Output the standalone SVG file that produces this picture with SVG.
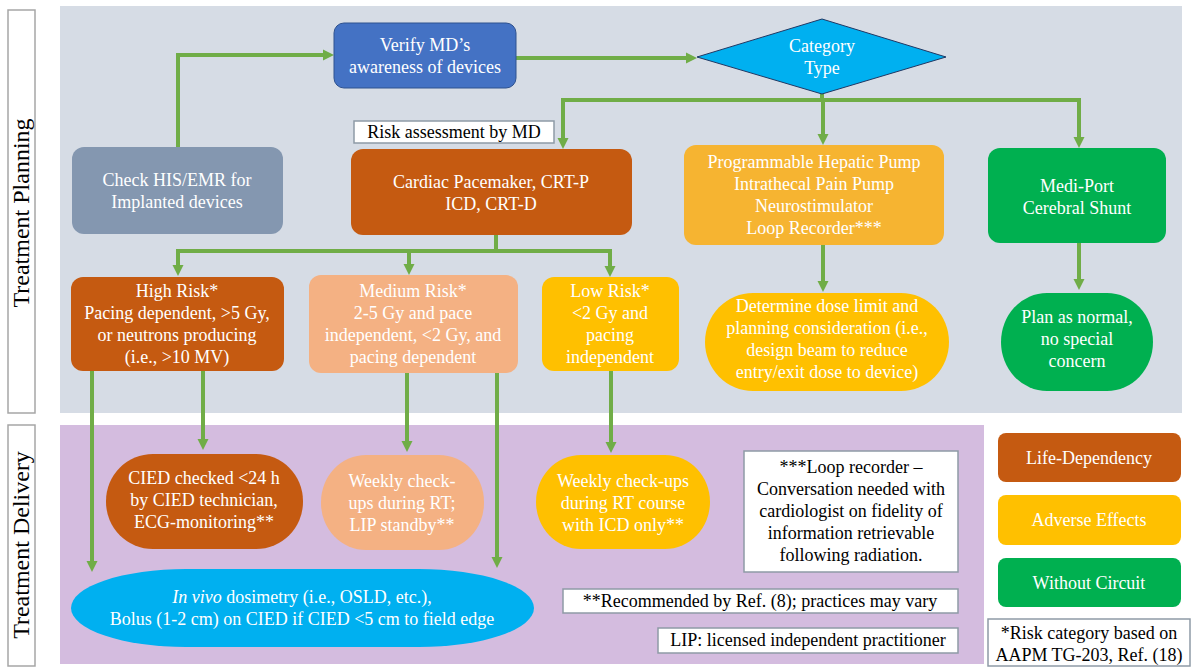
<svg xmlns="http://www.w3.org/2000/svg" width="1193" height="668" viewBox="0 0 1193 668" font-family="'Liberation Serif', 'DejaVu Serif', serif">
<defs>
<marker id="ah" markerUnits="userSpaceOnUse" markerWidth="12" markerHeight="12" refX="3" refY="6" orient="auto">
<path d="M0,0.5 L11,6 L0,11.5 z" fill="#70ad47"/>
</marker>
</defs>
<style>
text{font-family:'Liberation Serif','DejaVu Serif',serif;font-size:18px;text-anchor:middle}
.w{fill:#ffffff}
.k{fill:#000000}
.lbl{font-size:24px;fill:#000}
.c{fill:none;stroke:#70ad47;stroke-width:4}
.note{fill:#ffffff;stroke:#8e9aa6;stroke-width:1.5}
.side{fill:#ffffff;stroke:#a6a6a6;stroke-width:1.5}
.life{fill:#c55a11}
.med{fill:#f4b183}
.adv{fill:#ffc000}
.grn{fill:#00b050}
.cyan{fill:#00b0f0}
</style>
<rect width="1193" height="668" fill="#ffffff"/>
<g id="panels">
<rect x="60" y="6" width="1122" height="407" fill="#d6dce5"/>
<rect x="60" y="425" width="924" height="239" fill="#d4bcdf"/>
</g>
<g id="label-planning">
<rect class="side" x="8" y="10" width="27" height="403"/>
<text class="lbl" transform="translate(29,213) rotate(-90)">Treatment Planning</text>
</g>
<g id="label-delivery">
<rect class="side" x="8" y="425" width="27" height="241"/>
<text class="lbl" transform="translate(29,545) rotate(-90)">Treatment Delivery</text>
</g>
<g id="connectors">
<path class="c" d="M178,147 L178,55 L326,55" marker-end="url(#ah)"/>
<path class="c" d="M516,58 L689,58" marker-end="url(#ah)"/>
<path class="c" d="M822,93 L822,100"/>
<path class="c" d="M563,100 L1079,100"/>
<path class="c" d="M563,98 L563,141" marker-end="url(#ah)"/>
<path class="c" d="M823,100 L823,137" marker-end="url(#ah)"/>
<path class="c" d="M1079,98 L1079,140" marker-end="url(#ah)"/>
<path class="c" d="M496,235 L496,251"/>
<path class="c" d="M176,251 L612,251"/>
<path class="c" d="M178,249 L178,268" marker-end="url(#ah)"/>
<path class="c" d="M409,251 L409,267" marker-end="url(#ah)"/>
<path class="c" d="M610,249 L610,269" marker-end="url(#ah)"/>
<path class="c" d="M823,245 L823,284" marker-end="url(#ah)"/>
<path class="c" d="M1079,243 L1079,282" marker-end="url(#ah)"/>
<path class="c" d="M92,371 L92,564" marker-end="url(#ah)"/>
<path class="c" d="M203,371 L203,442" marker-end="url(#ah)"/>
<path class="c" d="M407,373 L407,444" marker-end="url(#ah)"/>
<path class="c" d="M497,373 L497,560" marker-end="url(#ah)"/>
<path class="c" d="M611,371 L611,445" marker-end="url(#ah)"/>
</g>
<g id="verify">
<rect x="334" y="23" width="182" height="65" rx="10" fill="#4472c4" stroke="#2f528f" stroke-width="1"/>
<text class="w" x="425" y="51">Verify MD’s</text>
<text class="w" x="425" y="73">awareness of devices</text>
</g>
<g id="category">
<polygon points="697,57 822,19 946,57 822,94" fill="#00b0f0" stroke="#203864" stroke-width="1"/>
<text class="w" x="822" y="52">Category</text>
<text class="w" x="822" y="74">Type</text>
</g>
<g id="check-his">
<rect x="72" y="147" width="211" height="87" rx="12" fill="#8497b0"/>
<text class="w" x="177" y="186">Check HIS/EMR for</text>
<text class="w" x="177" y="208">Implanted devices</text>
</g>
<g id="risk-assessment">
<rect class="note" x="354" y="121" width="200" height="22"/>
<text class="k" x="454" y="138">Risk assessment by MD</text>
</g>
<g id="cardiac">
<rect class="life" x="351" y="149" width="281" height="86" rx="12"/>
<text class="w" x="491" y="188">Cardiac Pacemaker, CRT-P</text>
<text class="w" x="491" y="210">ICD, CRT-D</text>
</g>
<g id="programmable">
<rect x="684" y="145" width="260" height="100" rx="12" fill="#f6b431"/>
<text class="w" x="814" y="168">Programmable Hepatic Pump</text>
<text class="w" x="814" y="190">Intrathecal Pain Pump</text>
<text class="w" x="814" y="212">Neurostimulator</text>
<text class="w" x="814" y="234">Loop Recorder***</text>
</g>
<g id="medi-port">
<rect class="grn" x="988" y="148" width="178" height="95" rx="12"/>
<text class="w" x="1077" y="192">Medi-Port</text>
<text class="w" x="1077" y="214">Cerebral Shunt</text>
</g>
<g id="high-risk">
<rect class="life" x="71" y="277" width="213" height="94" rx="12"/>
<text class="w" x="177" y="297">High Risk*</text>
<text class="w" x="177" y="319">Pacing dependent, &gt;5 Gy,</text>
<text class="w" x="177" y="341">or neutrons producing</text>
<text class="w" x="177" y="363">(i.e., &gt;10 MV)</text>
</g>
<g id="medium-risk">
<rect class="med" x="309" y="275" width="209" height="98" rx="12"/>
<text class="w" x="413" y="297">Medium Risk*</text>
<text class="w" x="413" y="319">2-5 Gy and pace</text>
<text class="w" x="413" y="341">independent, &lt;2 Gy, and</text>
<text class="w" x="413" y="363">pacing dependent</text>
</g>
<g id="low-risk">
<rect class="adv" x="542" y="277" width="137" height="94" rx="12"/>
<text class="w" x="610" y="297">Low Risk*</text>
<text class="w" x="610" y="319">&lt;2 Gy and</text>
<text class="w" x="610" y="341">pacing</text>
<text class="w" x="610" y="363">independent</text>
</g>
<g id="determine">
<rect class="adv" x="705" y="293" width="244" height="98" rx="48" ry="49"/>
<text class="w" x="827" y="312">Determine dose limit and</text>
<text class="w" x="827" y="334">planning consideration (i.e.,</text>
<text class="w" x="827" y="356">design beam to reduce</text>
<text class="w" x="827" y="378">entry/exit dose to device)</text>
</g>
<g id="plan-normal">
<rect class="grn" x="1001" y="293" width="152" height="98" rx="46" ry="49"/>
<text class="w" x="1077" y="323">Plan as normal,</text>
<text class="w" x="1077" y="345">no special</text>
<text class="w" x="1077" y="367">concern</text>
</g>
<g id="cied-checked">
<rect class="life" x="106" y="454" width="197" height="95" rx="47" ry="47"/>
<text class="w" x="204" y="484">CIED checked &lt;24 h</text>
<text class="w" x="204" y="506">by CIED technician,</text>
<text class="w" x="204" y="528">ECG-monitoring**</text>
</g>
<g id="weekly-lip">
<rect class="med" x="321" y="455" width="163" height="95" rx="45" ry="47"/>
<text class="w" x="402" y="487">Weekly check-</text>
<text class="w" x="402" y="509">ups during RT;</text>
<text class="w" x="402" y="531">LIP standby**</text>
</g>
<g id="weekly-icd">
<rect class="adv" x="536" y="455" width="174" height="94" rx="45" ry="47"/>
<text class="w" x="623" y="487">Weekly check-ups</text>
<text class="w" x="623" y="509">during RT course</text>
<text class="w" x="623" y="531">with ICD only**</text>
</g>
<g id="in-vivo">
<rect class="cyan" x="71" y="569" width="463" height="78" rx="115" ry="39"/>
<text class="w" x="302" y="603"><tspan font-style="italic">In vivo</tspan> dosimetry (i.e., OSLD, etc.),</text>
<text class="w" x="302" y="625">Bolus (1-2 cm) on CIED if CIED &lt;5 cm to field edge</text>
</g>
<g id="loop-note">
<rect class="note" x="744" y="451" width="214" height="121"/>
<text class="k" x="851" y="473">***Loop recorder –</text>
<text class="k" x="851" y="495">Conversation needed with</text>
<text class="k" x="851" y="517">cardiologist on fidelity of</text>
<text class="k" x="851" y="539">information retrievable</text>
<text class="k" x="851" y="561">following radiation.</text>
</g>
<g id="recommended-note">
<rect class="note" x="563" y="589" width="395" height="24"/>
<text class="k" x="760" y="607">**Recommended by Ref. (8); practices may vary</text>
</g>
<g id="lip-note">
<rect class="note" x="658" y="628" width="300" height="25"/>
<text class="k" x="808" y="646">LIP: licensed independent practitioner</text>
</g>
<g id="legend-life">
<rect class="life" x="998" y="433" width="183" height="49" rx="8"/>
<text class="w" x="1089" y="464">Life-Dependency</text>
</g>
<g id="legend-adverse">
<rect class="adv" x="998" y="495" width="183" height="50" rx="8"/>
<text class="w" x="1089" y="526">Adverse Effects</text>
</g>
<g id="legend-without">
<rect class="grn" x="998" y="558" width="183" height="49" rx="8"/>
<text class="w" x="1089" y="589">Without Circuit</text>
</g>
<g id="risk-category-note">
<rect class="note" x="988" y="619" width="202" height="47"/>
<text class="k" x="1089" y="639">*Risk category based on</text>
<text class="k" x="1089" y="661">AAPM TG-203, Ref. (18)</text>
</g>
</svg>
